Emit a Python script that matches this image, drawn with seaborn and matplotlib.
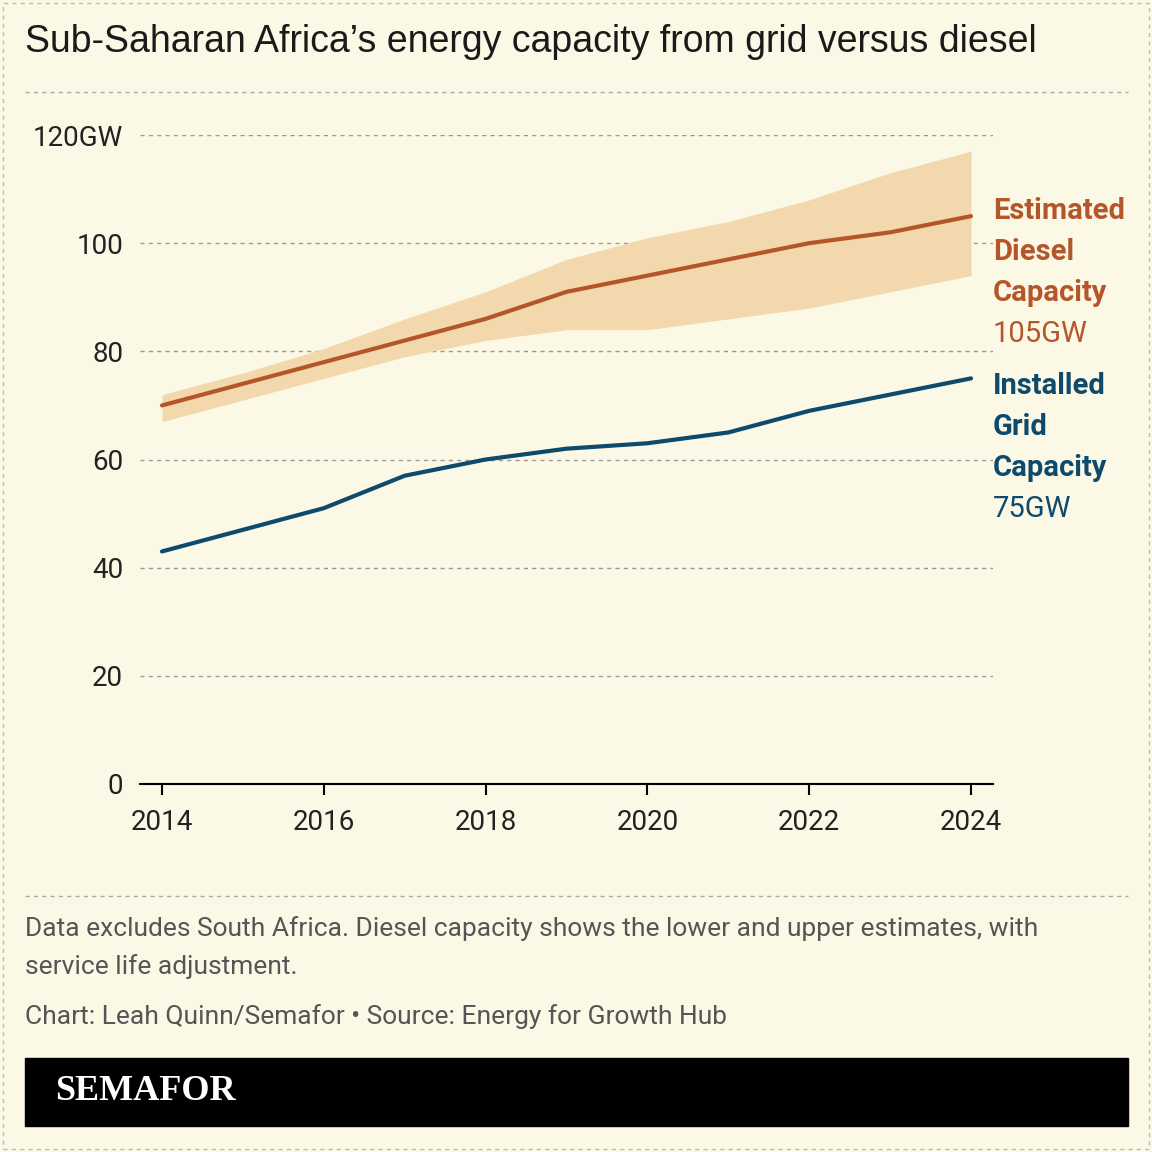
import matplotlib
matplotlib.use("Agg")
import matplotlib.pyplot as plt
import seaborn as sns
import pandas as pd
from matplotlib.patches import Rectangle

years = [2014, 2015, 2016, 2017, 2018, 2019, 2020, 2021, 2022, 2023, 2024]
diesel = [70, 74, 78, 82, 86, 91, 94, 97, 100, 102, 105]
diesel_upper = [72, 76, 80.5, 86, 91, 97, 101, 104, 108, 113, 117]
diesel_lower = [67, 71, 75, 79, 82, 84, 84, 86, 88, 91, 94]
grid = [43, 47, 51, 57, 60, 62, 63, 65, 69, 72, 75]
yticks = [0, 20, 40, 60, 80, 100, 120]
ylabels = ["0", "20", "40", "60", "80", "100", "120GW"]
xticks = [2014, 2016, 2018, 2020, 2022, 2024]

BG = "#fcf8e6"
ORANGE = "#b5562a"
BAND = "#f2d8ac"
BLUE = "#0e4a6b"
sns.set_theme(style="white")
plt.rcParams["font.family"] = ["Roboto", "DejaVu Sans"]

fig = plt.figure(figsize=(11.52, 11.52), dpi=100, facecolor=BG)
W = 1152
def fx(p): return p / W
def fy(p): return 1 - p / W

ax = fig.add_axes([fx(140), fy(784), fx(993 - 140), (784 - 135) / W])
ax.set_facecolor(BG)
df = pd.DataFrame({"year": years, "diesel": diesel, "grid": grid})
ax.fill_between(years, diesel_lower, diesel_upper, color=BAND, lw=0)
sns.lineplot(data=df, x="year", y="diesel", color=ORANGE, lw=3, ax=ax)
sns.lineplot(data=df, x="year", y="grid", color=BLUE, lw=3, ax=ax)
ax.set_xlim(2014 - 22 / 80.9, 2024 + 22 / 80.9)
ax.set_ylim(0, 120)
ax.set_yticks(yticks)
ax.set_yticklabels(ylabels)
ax.set_xticks(xticks)
ax.set_xticklabels([str(x) for x in xticks])
for y in yticks[1:]:
    ax.axhline(y, color="#9a9a9a", lw=1, ls=(0, (3, 3)), zorder=0)
for s in ["top", "right", "left"]:
    ax.spines[s].set_visible(False)
ax.spines["bottom"].set_color("black")
ax.spines["bottom"].set_linewidth(1.5)
ax.tick_params(axis="x", length=8, width=1.5, color="black", direction="out", pad=10, labelsize=20, labelcolor="#222222", bottom=True)
ax.tick_params(axis="y", length=0, pad=12, labelsize=20, labelcolor="#222222")
ax.set_xlabel("")
ax.set_ylabel("")

fig.text(fx(25), fy(42), "Sub-Saharan Africa\u2019s energy capacity from grid versus diesel",
         fontsize=27, family=["Liberation Sans", "DejaVu Sans"], color="#1a1a1a", va="center")
for yy in [92, 896]:
    fig.add_artist(plt.Line2D([fx(25), fx(1128)], [fy(yy), fy(yy)], color="#aaaaaa", lw=1, ls=(0, (3, 3))))

lx = fx(993)
for i, t in enumerate(["Estimated", "Diesel", "Capacity"]):
    fig.text(lx, fy(211 + 41 * i), t, color=ORANGE, fontsize=21, fontweight="bold", va="center", stretch="condensed")
fig.text(lx, fy(334), "105GW", color=ORANGE, fontsize=21, va="center")
for i, t in enumerate(["Installed", "Grid", "Capacity"]):
    fig.text(lx, fy(386 + 41 * i), t, color=BLUE, fontsize=21, fontweight="bold", va="center")
fig.text(lx, fy(509), "75GW", color=BLUE, fontsize=21, va="center")

fig.text(fx(25), fy(929), "Data excludes South Africa. Diesel capacity shows the lower and upper estimates, with",
         fontsize=19, color="#555555", va="center")
fig.text(fx(25), fy(967), "service life adjustment.", fontsize=19, color="#555555", va="center")
fig.text(fx(25), fy(1017), "Chart: Leah Quinn/Semafor \u2022 Source: Energy for Growth Hub", fontsize=19, color="#555555", va="center")

fig.add_artist(Rectangle((fx(25), fy(1126)), fx(1128 - 25), (1126 - 1058) / W, color="black", transform=fig.transFigure))
fig.text(fx(55), fy(1092), "SEMAFOR", color="white", fontsize=26, fontweight="bold",
         family=["Liberation Serif", "DejaVu Serif"], va="center")
fig.add_artist(Rectangle((fx(3), fy(1149)), fx(1146), 1146 / W, fill=False, ec="#bbbbbb", lw=1, ls=(0, (3, 3)), transform=fig.transFigure))

fig.savefig("out.png", dpi=100, facecolor=BG)
